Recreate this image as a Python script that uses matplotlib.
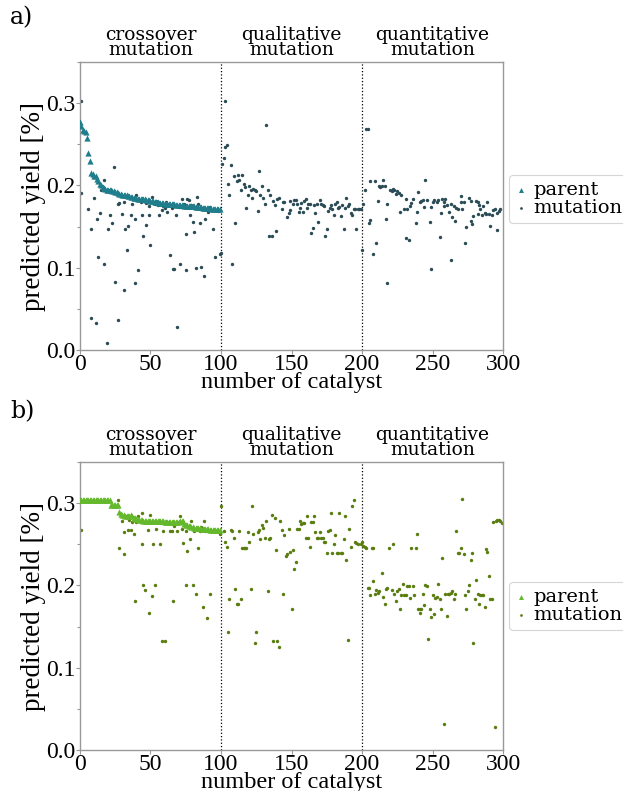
import matplotlib.pyplot as plt
from matplotlib.ticker import MultipleLocator

plt.rcParams['font.family'] = ['Liberation Serif', 'DejaVu Serif']

sections = ["crossover\nmutation", "qualitative\nmutation", "quantitative\nmutation"]
section_centres = [50, 150, 250]
boundaries = [100, 200]

# panel a: parent yield per catalyst (0..99)
parent_a = [
    0.277, 0.272, 0.268, 0.266, 0.265, 0.258, 0.240, 0.230, 0.215, 0.214,
    0.212, 0.211, 0.208, 0.206, 0.202, 0.200, 0.198, 0.197, 0.196, 0.195,
    0.195, 0.194, 0.194, 0.193, 0.193, 0.192, 0.192, 0.191, 0.190, 0.190,
    0.189, 0.189, 0.188, 0.188, 0.187, 0.187, 0.186, 0.186, 0.185, 0.185,
    0.185, 0.184, 0.184, 0.184, 0.183, 0.183, 0.183, 0.182, 0.182, 0.182,
    0.181, 0.181, 0.181, 0.180, 0.180, 0.180, 0.179, 0.179, 0.179, 0.179,
    0.178, 0.178, 0.178, 0.178, 0.177, 0.177, 0.177, 0.177, 0.176, 0.176,
    0.176, 0.176, 0.176, 0.176, 0.175, 0.175, 0.175, 0.175, 0.175, 0.175,
    0.175, 0.175, 0.174, 0.174, 0.174, 0.174, 0.174, 0.173, 0.173, 0.173,
    0.173, 0.173, 0.173, 0.172, 0.172, 0.172, 0.172, 0.172, 0.171, 0.171,
]

mut_a_x = [
    1, 1, 6, 8, 10, 8, 11, 12, 13, 14, 15, 17, 17, 19, 20, 21, 21, 23, 24, 25,
    27, 27, 28, 30, 31, 31, 32, 33, 34, 36, 37, 39, 39, 40, 41, 43, 44, 45, 47, 47,
    49, 49, 50, 51, 53, 54, 55, 56, 58, 59, 60, 61, 62, 63, 64, 65, 66, 67, 68, 69,
    70, 71, 72, 74, 75, 75, 76, 77, 78, 79, 80, 81, 82, 83, 84, 85, 86, 88, 88, 89,
    91, 92, 94, 96, 98, 99,
    101, 100, 102, 103, 103, 104, 105, 106, 107, 108, 109, 110, 111, 112, 113, 114,
    115, 116, 117, 118, 119, 120, 121, 122, 123, 124, 125, 126, 127, 128, 129, 130,
    131, 132, 133, 134, 135, 136, 137, 138, 139, 140, 141, 143, 144, 145, 147, 148,
    149, 149, 151, 152, 153, 154, 155, 156, 157, 158, 159, 160, 161, 162, 163, 164,
    165, 166, 167, 168, 169, 170, 171, 172, 173, 174, 175, 176, 177, 178, 179, 180,
    181, 182, 183, 184, 185, 186, 187, 188, 189, 190, 191, 192, 193, 194, 195, 196,
    197, 198, 199,
    200, 201, 202, 203, 204, 205, 206, 206, 208, 209, 210, 211, 212, 213, 214, 215,
    216, 217, 218, 218, 220, 221, 222, 222, 223, 224, 225, 226, 227, 228, 230, 231,
    231, 232, 233, 234, 235, 236, 238, 239, 240, 241, 242, 243, 244, 245, 246, 248,
    249, 249, 250, 251, 253, 254, 255, 256, 257, 258, 258, 259, 260, 262, 263, 263,
    264, 265, 266, 267, 268, 270, 270, 271, 272, 273, 274, 276, 277, 277, 278, 279,
    281, 282, 282, 283, 284, 285, 286, 287, 288, 289, 290, 291, 292, 293, 294, 296,
    296, 297, 298,
]
mut_a_y = [
    0.303, 0.191, 0.171, 0.147, 0.185, 0.039, 0.033, 0.159, 0.113, 0.166,
    0.194, 0.207, 0.105, 0.008, 0.147, 0.194, 0.164, 0.154, 0.223, 0.083,
    0.177, 0.036, 0.179, 0.165, 0.073, 0.180, 0.147, 0.122, 0.151, 0.164,
    0.177, 0.159, 0.082, 0.188, 0.097, 0.180, 0.164, 0.139, 0.179, 0.152,
    0.164, 0.175, 0.128, 0.186, 0.177, 0.181, 0.176, 0.164, 0.170, 0.175,
    0.173, 0.180, 0.168, 0.178, 0.116, 0.173, 0.099, 0.099, 0.164, 0.028,
    0.174, 0.105, 0.184, 0.177, 0.141, 0.097, 0.184, 0.182, 0.164, 0.176,
    0.156, 0.143, 0.100, 0.186, 0.177, 0.154, 0.101, 0.173, 0.090, 0.159,
    0.168, 0.174, 0.147, 0.113, 0.169, 0.117,
    0.226, 0.118, 0.233, 0.247, 0.303, 0.249, 0.202, 0.188, 0.225, 0.104,
    0.211, 0.154, 0.205, 0.213, 0.207, 0.194, 0.213, 0.202, 0.198, 0.173,
    0.188, 0.199, 0.194, 0.185, 0.196, 0.194, 0.193, 0.169, 0.218, 0.188,
    0.199, 0.185, 0.177, 0.274, 0.195, 0.139, 0.188, 0.138, 0.181, 0.176,
    0.145, 0.184, 0.185, 0.172, 0.180, 0.180, 0.162, 0.167, 0.170, 0.181,
    0.178, 0.182, 0.182, 0.177, 0.168, 0.173, 0.179, 0.168, 0.181, 0.184,
    0.173, 0.178, 0.178, 0.142, 0.148, 0.176, 0.167, 0.178, 0.156, 0.182,
    0.177, 0.176, 0.175, 0.139, 0.147, 0.169, 0.173, 0.176, 0.171, 0.164,
    0.177, 0.180, 0.173, 0.174, 0.163, 0.176, 0.147, 0.173, 0.185, 0.175,
    0.177, 0.167, 0.164, 0.172, 0.172, 0.147, 0.172, 0.172, 0.172,
    0.122, 0.178, 0.195, 0.269, 0.269, 0.154, 0.158, 0.206, 0.117, 0.206,
    0.130, 0.181, 0.199, 0.198, 0.199, 0.207, 0.199, 0.159, 0.082, 0.177,
    0.194, 0.193, 0.194, 0.196, 0.194, 0.190, 0.193, 0.191, 0.168, 0.188,
    0.171, 0.184, 0.136, 0.172, 0.134, 0.175, 0.179, 0.183, 0.154, 0.168,
    0.192, 0.180, 0.181, 0.182, 0.174, 0.207, 0.182, 0.156, 0.099, 0.174,
    0.180, 0.182, 0.180, 0.182, 0.137, 0.167, 0.184, 0.180, 0.175, 0.184,
    0.176, 0.168, 0.178, 0.109, 0.162, 0.175, 0.157, 0.173, 0.172, 0.187,
    0.180, 0.172, 0.180, 0.130, 0.150, 0.185, 0.181, 0.157, 0.153, 0.163,
    0.181, 0.180, 0.165, 0.176, 0.172, 0.164, 0.175, 0.167, 0.165, 0.180,
    0.165, 0.151, 0.164, 0.170, 0.172, 0.146, 0.167, 0.169, 0.172,
]

# panel b
parent_b = [
    0.304, 0.304, 0.304, 0.304, 0.304, 0.304, 0.304, 0.304, 0.304, 0.304,
    0.304, 0.304, 0.304, 0.304, 0.304, 0.304, 0.304, 0.304, 0.304, 0.304,
    0.304, 0.304, 0.298, 0.298, 0.298, 0.298, 0.298, 0.298, 0.289, 0.287,
    0.286, 0.286, 0.285, 0.285, 0.284, 0.284, 0.286, 0.285, 0.282, 0.282,
    0.281, 0.281, 0.280, 0.280, 0.280, 0.279, 0.279, 0.279, 0.279, 0.278,
    0.278, 0.278, 0.278, 0.278, 0.278, 0.278, 0.278, 0.278, 0.278, 0.278,
    0.277, 0.277, 0.277, 0.277, 0.277, 0.277, 0.277, 0.277, 0.277, 0.277,
    0.277, 0.279, 0.279, 0.278, 0.275, 0.274, 0.273, 0.272, 0.272, 0.271,
    0.271, 0.270, 0.270, 0.270, 0.270, 0.270, 0.269, 0.269, 0.269, 0.269,
    0.269, 0.269, 0.268, 0.268, 0.268, 0.268, 0.268, 0.268, 0.268, 0.268,
]

mut_b_x = [
    1, 27, 28, 30, 31, 31, 32, 34, 35, 36, 37, 38, 39, 40, 41, 43, 44, 44, 45, 46,
    47, 48, 49, 50, 51, 52, 53, 54, 56, 57, 58, 60, 59, 62, 64, 65, 66, 67, 69, 69,
    71, 72, 73, 75, 75, 76, 78, 79, 80, 81, 82, 84, 85, 86, 87, 88, 89, 90, 92, 92,
    93, 95, 99, 100,
    102, 103, 104, 105, 106, 107, 108, 109, 110, 111, 112, 113, 114, 115, 116, 117,
    118, 119, 120, 121, 122, 123, 124, 125, 126, 127, 128, 129, 130, 131, 132, 133,
    134, 135, 136, 137, 138, 139, 140, 141, 142, 143, 144, 145, 146, 147, 148, 149,
    150, 151, 152, 153, 154, 155, 156, 157, 158, 159, 160, 161, 162, 163, 164, 165,
    166, 167, 168, 169, 170, 171, 172, 173, 174, 175, 176, 177, 178, 179, 180, 181,
    182, 183, 184, 185, 186, 187, 188, 189, 190, 191, 192, 193, 194, 195, 196, 197,
    199, 200,
    201, 202, 203, 204, 205, 206, 207, 208, 208, 209, 210, 211, 212, 214, 215, 216,
    217, 218, 219, 221, 222, 223, 224, 225, 226, 227, 228, 229, 230, 231, 232, 233,
    234, 235, 236, 237, 238, 239, 240, 241, 241, 242, 243, 244, 245, 246, 247, 248,
    249, 250, 251, 252, 253, 254, 255, 256, 257, 258, 259, 260, 261, 262, 263, 264,
    265, 266, 267, 268, 269, 270, 271, 272, 273, 274, 275, 276, 277, 278, 279, 280,
    281, 282, 283, 284, 285, 286, 287, 288, 289, 290, 291, 292, 293, 294, 295, 296,
    297, 298, 299,
]
mut_b_y = [
    0.268, 0.304, 0.245, 0.279, 0.265, 0.238, 0.284, 0.268, 0.280, 0.268,
    0.277, 0.262, 0.181, 0.277, 0.285, 0.279, 0.288, 0.250, 0.200, 0.194,
    0.277, 0.268, 0.167, 0.286, 0.187, 0.250, 0.200, 0.269, 0.277, 0.250,
    0.132, 0.132, 0.266, 0.277, 0.266, 0.266, 0.181, 0.272, 0.277, 0.266,
    0.285, 0.269, 0.252, 0.266, 0.200, 0.242, 0.257, 0.279, 0.200, 0.266,
    0.190, 0.245, 0.266, 0.271, 0.174, 0.278, 0.266, 0.160, 0.266, 0.190,
    0.266, 0.268, 0.263, 0.297,
    0.266, 0.253, 0.247, 0.143, 0.184, 0.268, 0.266, 0.258, 0.196, 0.177,
    0.177, 0.266, 0.184, 0.245, 0.245, 0.245, 0.245, 0.265, 0.253, 0.196,
    0.297, 0.262, 0.130, 0.143, 0.265, 0.268, 0.256, 0.273, 0.270, 0.258,
    0.279, 0.193, 0.257, 0.258, 0.286, 0.132, 0.282, 0.243, 0.132, 0.125,
    0.279, 0.267, 0.190, 0.261, 0.236, 0.238, 0.269, 0.241, 0.172, 0.243,
    0.220, 0.228, 0.269, 0.269, 0.279, 0.275, 0.276, 0.276, 0.258, 0.284,
    0.258, 0.247, 0.277, 0.277, 0.284, 0.265, 0.258, 0.258, 0.265, 0.258,
    0.258, 0.253, 0.253, 0.239, 0.266, 0.267, 0.288, 0.239, 0.250, 0.261,
    0.239, 0.239, 0.288, 0.239, 0.239, 0.257, 0.285, 0.231, 0.134, 0.269,
    0.247, 0.297, 0.304, 0.253, 0.252, 0.250, 0.250, 0.253,
    0.248, 0.247, 0.245, 0.197, 0.197, 0.188, 0.245, 0.245, 0.205, 0.190,
    0.194, 0.191, 0.193, 0.215, 0.186, 0.178, 0.196, 0.197, 0.245, 0.194,
    0.251, 0.190, 0.181, 0.193, 0.196, 0.171, 0.189, 0.202, 0.189, 0.189,
    0.199, 0.199, 0.185, 0.245, 0.199, 0.189, 0.245, 0.262, 0.172, 0.172,
    0.166, 0.172, 0.190, 0.176, 0.201, 0.199, 0.135, 0.171, 0.162, 0.188,
    0.165, 0.185, 0.186, 0.202, 0.183, 0.172, 0.234, 0.032, 0.190, 0.163,
    0.190, 0.190, 0.191, 0.193, 0.184, 0.190, 0.266, 0.239, 0.239, 0.245,
    0.305, 0.238, 0.189, 0.171, 0.193, 0.201, 0.231, 0.240, 0.130, 0.183,
    0.207, 0.190, 0.177, 0.189, 0.188, 0.189, 0.174, 0.244, 0.241, 0.211,
    0.183, 0.183, 0.277, 0.028, 0.278, 0.280, 0.280, 0.279, 0.276,
]

fig = plt.figure(figsize=(6.23, 7.91), dpi=100)


def panel(rect, tag, tag_y, parent, mx, my, c_parent, c_mut, leg_y):
    ax = fig.add_axes(rect)
    ax.scatter(mx, my, s=6, marker='o', color=c_mut, linewidths=0,
               label='mutation', zorder=2)
    ax.scatter(range(len(parent)), parent, s=20, marker='^', color=c_parent,
               linewidths=0, label='parent', zorder=3)
    for b in boundaries:
        ax.axvline(b, color='black', linestyle=':', linewidth=0.9, zorder=1)
    ax.set_xlim(0, 300)
    ax.set_ylim(0, 0.35)
    ax.xaxis.set_major_locator(MultipleLocator(50))
    ax.yaxis.set_major_locator(MultipleLocator(0.1))
    ax.yaxis.set_minor_locator(MultipleLocator(0.05))
    ax.yaxis.set_major_formatter(plt.FuncFormatter(lambda v, p: f"{v:.1f}"))
    ax.tick_params(which='both', direction='out', color='#999999',
                   labelsize=17, pad=0)
    ax.tick_params(which='major', length=3, width=0.8)
    ax.tick_params(which='minor', length=2.5, width=0.8)
    for s in ax.spines.values():
        s.set_color('#999999')
        s.set_linewidth(1.0)
    ax.set_xlabel("number of catalyst", fontsize=17.5, labelpad=-2)
    ax.set_ylabel("predicted yield [%]", fontsize=19.5, labelpad=0)
    for name, xc in zip(sections, section_centres):
        ax.text(xc, 1.012, name, transform=ax.get_xaxis_transform(),
                ha='center', va='bottom', linespacing=0.78, fontsize=13.5,
                family='DejaVu Serif')
    h, l = ax.get_legend_handles_labels()
    leg = ax.legend(h[::-1], l[::-1], loc='center left',
                    bbox_to_anchor=(1.015, leg_y), borderaxespad=0,
                    prop={'family': 'DejaVu Serif', 'size': 14},
                    handlelength=0.6, handletextpad=0.35, labelspacing=0.0,
                    borderpad=0.3, markerscale=0.8, edgecolor='#cccccc')
    leg.get_frame().set_linewidth(0.8)
    fig.text(0.016, tag_y, tag, fontsize=17, family='DejaVu Serif',
             ha='left', va='top')
    return ax


panel([0.1284, 0.5575, 0.679, 0.364], "a)", 0.992, parent_a,
      mut_a_x, mut_a_y, '#1f7d8c', '#2b4b56', 0.525)
panel([0.1284, 0.0518, 0.679, 0.364], "b)", 0.494, parent_b,
      mut_b_x, mut_b_y, '#63b82c', '#5a7d10', 0.50)

fig.savefig("out.png", dpi=100)
